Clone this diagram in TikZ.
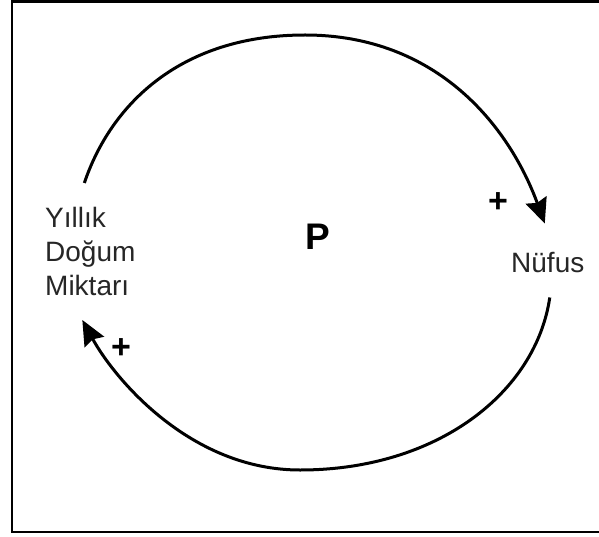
\documentclass[tikz,border=0pt]{standalone}
\usepackage{fontspec}
\setmainfont{Liberation Sans}
\usetikzlibrary{arrows.meta}
\begin{document}
\begin{tikzpicture}[x=1pt,y=-1pt,
  lbl/.style={font=\fontsize{28}{34}\selectfont, inner sep=0pt, align=left, text=black!85},
  sign/.style={font=\bfseries\fontsize{34}{34}\selectfont, inner sep=0pt},
  link/.style={line width=3pt, -{Stealth[length=25pt,width=22pt,inset=3pt]}},
  frame/.style={line width=2.5pt}]
\useasboundingbox[fill=white] (0,0) rectangle (599,537);
\draw[frame] (640,1.3) -- (12,1.3) -- (12,532) -- (640,532);
\node[lbl, anchor=north west] (yil) at (45,207) {Yıllık\\Doğum\\Miktarı};
\node[lbl, anchor=base west] (nuf) at (511,272) {Nüfus};
\node[font=\bfseries\fontsize{37}{37}\selectfont, inner sep=0pt, anchor=base] (p) at (318,250) {P};
\node[sign] (s1) at (498,203) {+};
\node[sign] (s2) at (121,349) {+};
\draw[link] ([shift={(-6,-24)}]yil.north) .. controls (111,104) and (181,35) .. (305,35)
  .. controls (437,35) and (509,126) .. ([shift={(-3,-28)}]nuf.north);
\draw[link] ([shift={(2,25)}]nuf.south) .. controls (536,392) and (438,470) .. (300,470)
  .. controls (190,470) and (114,378) .. ([shift={(-8,24)}]yil.south);
\end{tikzpicture}
\end{document}
